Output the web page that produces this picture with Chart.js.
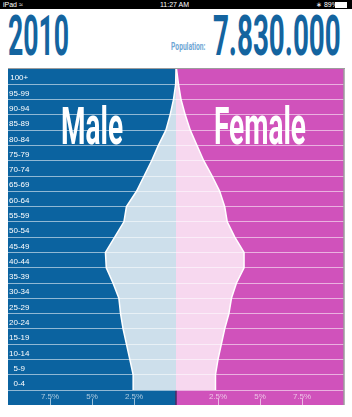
<!DOCTYPE html>
<html>
<head>
<meta charset="utf-8">
<script src="https://cdn.jsdelivr.net/npm/chart.js@4.4.1/dist/chart.umd.min.js"></script>
<style>
  html, body { margin: 0; padding: 0; background: #fff; }
  #page { position: relative; width: 352px; height: 417px; overflow: hidden; font-family: "Liberation Sans", Arial, sans-serif; }
  #status { position: absolute; left: 0; top: 0; width: 352px; height: 9px; background: #000; color: #fff; font-size: 7px; line-height: 9px; }
  #status span { position: absolute; top: 0; }
  .big { position: absolute; top: 9px; font: bold 55px/55px Roboto, sans-serif; color: #14649f; white-space: nowrap; }
  #year { left: 8px; transform-origin: left top; }
  #total { right: 11px; transform-origin: right top; }
  #poplabel { position: absolute; top: 42px; right: 147px; font: bold 10px/10px Roboto, sans-serif; color: #6ea6d4; transform-origin: right top; white-space: nowrap; }
  #rule { position: absolute; left: 8px; top: 68px; width: 337px; height: 1px; background: #9c9c9c; }
  #pyramid { position: absolute; left: 0; top: 60px; }
</style>
</head>
<body>
<div id="page">
  <div id="status">
    <span style="left:3px">iPad &#8776;</span>
    <span style="left:160px">11:27 AM</span>
    <span style="left:316px">&#8727; 89%</span>
    <span style="left:335px;top:2px;width:10px;height:4px;background:#fff;border:0.5px solid #fff"></span>
  </div>
  <div class="big" id="year">2010</div>
  <div id="poplabel">Population:</div>
  <div class="big" id="total">7.830.000</div>
  <div id="rule"></div>
  <canvas id="pyramid" width="352" height="357"></canvas>
</div>
<script>
// age groups, bottom row first
const ageGroups = ['0-4', '5-9', '10-14', '15-19', '20-24', '25-29', '30-34', '35-39', '40-44', '45-49',
  '50-54', '55-59', '60-64', '65-69', '70-74', '75-79', '80-84', '85-89', '90-94', '95-99', '100+'];

// share of population (%) at each row boundary, bottom to top
const maleShare = [2.55, 2.55, 2.75, 2.95, 3.15, 3.3, 3.4, 3.75, 4.15, 4.2, 3.65,
  3.1, 2.95, 2.35, 1.9, 1.45, 1.05, 0.6, 0.35, 0.15, 0.02, 0];
const femaleShare = [2.35, 2.35, 2.5, 2.7, 2.9, 3.15, 3.3, 3.6, 4.05, 4.05, 3.5,
  3.05, 2.9, 2.6, 2.15, 1.65, 1.25, 0.85, 0.55, 0.3, 0.15, 0.03];

const xTicks = [-7.5, -5, -2.5, 0, 2.5, 5, 7.5];

// condense the headline text (no condensed font installed)
function squeeze(id, width) {
  const el = document.getElementById(id);
  el.style.transform = 'scaleX(' + (width / el.offsetWidth) + ')';
}
squeeze('year', 61);
squeeze('total', 128);
squeeze('poplabel', 34);

const halves = {
  id: 'halves',
  beforeDraw(chart) {
    const {ctx, chartArea: a, scales: {x}} = chart;
    const mid = x.getPixelForValue(0);
    ctx.save();
    ctx.fillStyle = '#0b63a0';
    ctx.fillRect(a.left, a.top, mid - a.left, x.bottom - a.top);
    ctx.fillStyle = '#d052bb';
    ctx.fillRect(mid, a.top, a.right - mid, x.bottom - a.top);
    // centre line through the axis band
    ctx.strokeStyle = '#4b2b63';
    ctx.lineWidth = 1.5;
    ctx.beginPath();
    ctx.moveTo(mid, a.bottom);
    ctx.lineTo(mid, x.bottom);
    ctx.stroke();
    ctx.restore();
  },
  afterDraw(chart) {
    const {ctx, chartArea: a, scales: {x}} = chart;
    ctx.save();
    // small tick marks under the percent labels
    ctx.strokeStyle = 'rgba(255,255,255,0.6)';
    ctx.lineWidth = 1;
    xTicks.forEach(v => {
      if (v === 0) return;
      const px = Math.round(x.getPixelForValue(v)) + 0.5;
      ctx.beginPath();
      ctx.moveTo(px, x.bottom - 6);
      ctx.lineTo(px, x.bottom + 1);
      ctx.stroke();
    });
    // right frame edge
    ctx.strokeStyle = '#9c9c9c';
    ctx.lineWidth = 1.5;
    ctx.beginPath();
    ctx.moveTo(a.right, a.top);
    ctx.lineTo(a.right, x.bottom);
    ctx.stroke();

    // big Male / Female titles
    ctx.fillStyle = '#ffffff';
    ctx.font = 'bold 51px Roboto, sans-serif';
    ctx.textBaseline = 'alphabetic';
    ctx.textAlign = 'center';
    const sx = 62 / ctx.measureText('Male').width;
    const base = a.top + 75;
    [['Male', (a.left + x.getPixelForValue(0)) / 2], ['Female', (x.getPixelForValue(0) + a.right) / 2]].forEach(([t, cx]) => {
      ctx.save();
      ctx.translate(cx, base);
      ctx.scale(sx, 1);
      ctx.fillText(t, 0, 0);
      ctx.restore();
    });
    ctx.restore();
  }
};

new Chart(document.getElementById('pyramid'), {
  type: 'line',
  data: {
    datasets: [{
      label: 'Male',
      data: maleShare.map((v, i) => ({x: -v, y: i})),
      borderColor: '#ffffff',
      borderWidth: 1.5,
      backgroundColor: '#cddfeb',
      fill: 'origin',
      pointRadius: 0,
      tension: 0
    }, {
      label: 'Female',
      data: femaleShare.map((v, i) => ({x: v, y: i})),
      borderColor: '#ffffff',
      borderWidth: 1.5,
      backgroundColor: '#f7d8ef',
      fill: 'origin',
      pointRadius: 0,
      tension: 0
    }]
  },
  options: {
    indexAxis: 'y',
    responsive: false,
    animation: false,
    devicePixelRatio: 1,
    layout: { padding: { left: 8, right: 8, top: 9, bottom: 12 } },
    plugins: { legend: { display: false }, tooltip: { enabled: false } },
    scales: {
      x: {
        type: 'linear',
        min: -10,
        max: 10,
        afterBuildTicks: s => { s.ticks = xTicks.map(v => ({value: v})); },
        afterFit: s => { s.height = 15; },
        border: { display: false },
        grid: {
          drawTicks: false,
          lineWidth: 1.5,
          color: c => (c.tick && c.tick.value === 0) ? '#4b2b63' : 'rgba(0,0,0,0)'
        },
        ticks: {
          autoSkip: false,
          maxRotation: 0,
          padding: 2,
          color: 'rgba(255,255,255,0.65)',
          font: { family: 'Liberation Sans', size: 8 },
          callback: v => v === 0 ? '' : Math.abs(v) + '%'
        }
      },
      y: {
        type: 'linear',
        position: 'left',
        min: 0,
        max: 21,
        afterBuildTicks: s => { s.ticks = ageGroups.concat(['']).map((_, i) => ({value: i})); },
        afterFit: s => { s.width = 0; },
        border: { display: false },
        grid: {
          z: 1,
          drawTicks: false,
          lineWidth: 1,
          color: c => (c.tick && c.tick.value === 21) ? 'rgba(0,0,0,0)' : 'rgba(255,255,255,0.55)'
        },
        ticks: {
          mirror: true,
          crossAlign: 'center',
          padding: 1,
          labelOffset: -6,
          color: '#ffffff',
          font: { family: 'Liberation Sans', size: 8 },
          callback: v => ageGroups[v] || ''
        }
      }
    }
  },
  plugins: [halves]
});
</script>
</body>
</html>
